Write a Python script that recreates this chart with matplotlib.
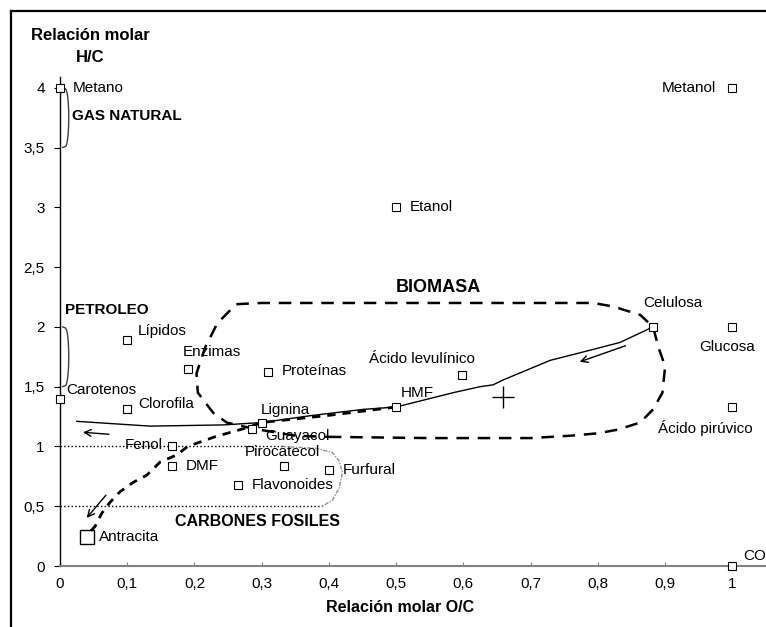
import matplotlib.pyplot as plt
import numpy as np
from matplotlib.lines import Line2D

plt.rcParams['font.family'] = ['Liberation Sans', 'DejaVu Sans']

# compuestos: (nombre, O/C, H/C)
names = ['Metano', 'Metanol', 'Etanol', 'Celulosa', 'Glucosa', 'Ácido pirúvico', 'CO',
         'Lípidos', 'Enzimas', 'Proteínas', 'Ácido levulínico', 'HMF', 'Carotenos',
         'Clorofila', 'Lignina', 'Guayacol', 'Fenol', 'DMF', 'Pirocatecol', 'Furfural',
         'Flavonoides']
oc = [0.0, 1.0, 0.5, 0.882, 1.0, 1.0, 1.0,
      0.1, 0.19, 0.31, 0.598, 0.5, 0.0,
      0.1, 0.30, 0.286, 0.167, 0.167, 0.333, 0.40,
      0.265]
hc = [4.0, 4.0, 3.0, 2.0, 2.0, 1.33, 0.0,
      1.89, 1.65, 1.62, 1.60, 1.33, 1.40,
      1.31, 1.20, 1.15, 1.0, 0.84, 0.84, 0.80,
      0.68]
# desplazamiento de la etiqueta (px) y alineacion
lab_pos = {
    'Metano': (13, 0, 'left'), 'Metanol': (-16, 0, 'right'), 'Etanol': (14, 0, 'left'),
    'Celulosa': (20, 24, 'center'), 'Glucosa': (-5, -20, 'center'),
    'Ácido pirúvico': (-27, -21, 'center'), 'CO': (11, 10, 'left'),
    'Lípidos': (11, 9, 'left'), 'Enzimas': (-5, 17, 'left'), 'Proteínas': (13, 1, 'left'),
    'Ácido levulínico': (13, 16, 'right'), 'HMF': (5, 14, 'left'), 'Carotenos': (6, 9, 'left'),
    'Clorofila': (11, 5, 'left'), 'Lignina': (-1, 13, 'left'), 'Guayacol': (13, -7, 'left'),
    'Fenol': (-10, 1, 'right'), 'DMF': (13, 0, 'left'), 'Pirocatecol': (-2, 14, 'center'),
    'Furfural': (14, 0, 'left'), 'Flavonoides': (14, 0, 'left'),
}

antracita = (0.04, 0.24)
centro = (0.659, 1.41)

# contorno de la biomasa
bio_x = [0.40, 0.55, 0.70, 0.76, 0.80, 0.829, 0.863, 0.882, 0.896, 0.90, 0.89, 0.882,
         0.863, 0.823, 0.793, 0.55, 0.30, 0.262, 0.234, 0.216, 0.203, 0.205, 0.228, 0.248,
         0.286, 0.35, 0.40]
bio_y = [1.08, 1.07, 1.07, 1.09, 1.11, 1.14, 1.20, 1.31, 1.45, 1.67, 1.83, 2.0,
         2.10, 2.17, 2.20, 2.20, 2.20, 2.19, 2.03, 1.83, 1.61, 1.45, 1.28, 1.20,
         1.15, 1.09, 1.08]
# trayectoria de la celulosa
cel_x = [0.882, 0.833, 0.778, 0.729, 0.659, 0.644, 0.625, 0.585, 0.5, 0.451, 0.376, 0.30,
         0.243, 0.134, 0.025]
cel_y = [2.0, 1.87, 1.79, 1.72, 1.556, 1.515, 1.50, 1.45, 1.33, 1.31, 1.26, 1.20,
         1.18, 1.17, 1.21]
# trayectoria hacia el carbon
carb_x = [0.5, 0.40, 0.30, 0.28, 0.23, 0.19, 0.174, 0.149, 0.129, 0.109, 0.089, 0.074,
          0.062, 0.052, 0.04]
carb_y = [1.33, 1.26, 1.20, 1.16, 1.08, 1.0, 0.93, 0.87, 0.76, 0.70, 0.62, 0.53,
          0.44, 0.33, 0.26]
# region de carbones
coal_x = [0.33, 0.38, 0.405, 0.415, 0.42, 0.415, 0.405, 0.39]
coal_y = [1.0, 0.985, 0.95, 0.88, 0.78, 0.65, 0.55, 0.50]

fig = plt.figure(figsize=(7.66, 6.27), dpi=100)
ax = fig.add_axes([60 / 766, 61 / 627, 706 / 766, 489 / 627])
ax.set_xlim(0, 1.05)
ax.set_ylim(0, 4.09)

ax.spines['top'].set_visible(False)
ax.spines['right'].set_visible(False)
ax.spines['left'].set_linewidth(1.0)
ax.spines['bottom'].set_color('#808080')
ax.spines['bottom'].set_linewidth(1.5)

xt = np.arange(0, 1.01, 0.1)
yt = np.arange(0, 4.01, 0.5)
ax.set_xticks(xt)
ax.set_xticklabels([('%g' % v).replace('.', ',') for v in xt])
ax.set_yticks(yt)
ax.set_yticklabels([('%g' % v).replace('.', ',') for v in yt])
ax.tick_params(axis='x', direction='in', length=3, color='#808080', pad=8, labelsize=11)
ax.tick_params(axis='y', direction='out', length=4, pad=7, labelsize=11)

# lineas
ax.plot(coal_x, coal_y, color='#909090', lw=1.0, ls=(0, (3, 1, 1, 1)))
ax.plot([0, 0.33], [1.0, 1.0], color='black', lw=1.0, ls=':')
ax.plot([0, 0.39], [0.5, 0.5], color='black', lw=1.0, ls=':')
ax.plot(bio_x, bio_y, color='black', lw=1.8, ls=(0, (5, 3.5)))
ax.plot(cel_x, cel_y, color='black', lw=1.0)
ax.plot(carb_x, carb_y, color='black', lw=2.0, ls=(0, (3, 2.5)))

# llaves
t = np.linspace(0, 1, 50)
for y0, y1 in [(4.0, 3.5), (2.0, 1.5)]:
    bx = 0.004 + 0.009 * np.sin(np.pi * t) ** 0.25
    ax.plot(bx, y0 + (y1 - y0) * t, color='#404040', lw=1.0)

# flechas
for (x0, y0), (x1, y1) in [((0.845, 1.85), (0.769, 1.70)),
                           ((0.077, 1.10), (0.03, 1.12)),
                           ((0.071, 0.61), (0.037, 0.385))]:
    ax.annotate('', xy=(x1, y1), xytext=(x0, y0),
                arrowprops=dict(arrowstyle='->', color='black', lw=1.0,
                                mutation_scale=12))

ax.plot(*centro, marker='+', ms=16, mew=1.0, color='black')

# puntos
ax.plot(oc, hc, ls='none', marker='s', ms=6, mfc='white', mec='black', mew=0.8,
        clip_on=False, zorder=5)
ax.plot(*antracita, ls='none', marker='s', ms=10, mfc='none', mec='black', mew=1.0)
ax.annotate('Antracita', antracita, xytext=(12 * 0.72, 0), textcoords='offset points',
            ha='left', va='center', fontsize=11)

for n, x, y in zip(names, oc, hc):
    dx, dy, ha = lab_pos[n]
    ax.annotate(n, (x, y), xytext=(dx * 0.72, dy * 0.72), textcoords='offset points',
                ha=ha, va='center', fontsize=11)

# regiones
ax.text(0.018, 3.76, 'GAS NATURAL', fontsize=11, fontweight='bold', va='center')
ax.text(0.007, 2.14, 'PETROLEO', fontsize=11, fontweight='bold', va='center')
ax.text(0.562, 2.33, 'BIOMASA', fontsize=13, fontweight='bold', va='center', ha='center')
ax.text(0.293, 0.37, 'CARBONES FOSILES', fontsize=11.5, fontweight='bold', va='center',
        ha='center')

fig.text(90 / 766, 1 - 35 / 627, 'Relación molar', fontsize=12, fontweight='bold',
         ha='center', va='center')
fig.text(90 / 766, 1 - 58 / 627, 'H/C', fontsize=12, fontweight='bold',
         ha='center', va='center')
fig.text(400 / 766, 1 - 608 / 627, 'Relación molar O/C', fontsize=11.5, fontweight='bold',
         ha='center', va='center')

# marco
fig.add_artist(Line2D([11 / 766, 11 / 766], [0, 1 - 11 / 627], color='black', lw=1.6))
fig.add_artist(Line2D([11 / 766, 1], [1 - 11 / 627, 1 - 11 / 627], color='black', lw=1.6))

fig.savefig('out.png', dpi=100)
